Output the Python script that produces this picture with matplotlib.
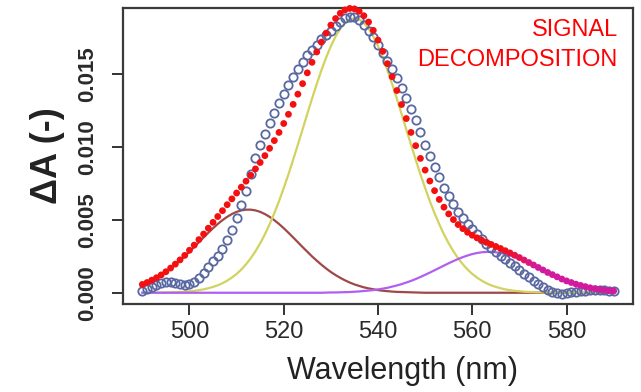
import matplotlib
matplotlib.use("Agg")
import matplotlib.pyplot as plt
import numpy as np
from matplotlib.colors import to_rgb

# ---------------- data ----------------
wl_start, wl_stop = 490, 590
wavelength = list(range(wl_start, wl_stop + 1))

measured = [
    0.00015, 0.00025, 0.00040, 0.00055, 0.00068, 0.00075, 0.00075, 0.00068, 0.00060, 0.00055,
    0.00060, 0.00075, 0.00100, 0.00135, 0.00175, 0.00215, 0.00255, 0.00300, 0.00360, 0.00430,
    0.00510, 0.00600, 0.00700, 0.00810, 0.00920, 0.01010, 0.01090, 0.01160, 0.01230, 0.01300,
    0.01360, 0.01420, 0.01480, 0.01530, 0.01580, 0.01625, 0.01665, 0.01700, 0.01735, 0.01765,
    0.01795, 0.01825, 0.01855, 0.01880, 0.01890, 0.01885, 0.01865, 0.01835, 0.01795, 0.01750,
    0.01700, 0.01645, 0.01590, 0.01530, 0.01470, 0.01405, 0.01335, 0.01260, 0.01180, 0.01100,
    0.01015, 0.00935, 0.00860, 0.00790, 0.00720, 0.00660, 0.00605, 0.00555, 0.00510, 0.00470,
    0.00435, 0.00400, 0.00365, 0.00335, 0.00305, 0.00280, 0.00255, 0.00230, 0.00205, 0.00180,
    0.00155, 0.00130, 0.00105, 0.00080, 0.00058, 0.00038, 0.00020, 0.00005, -0.00005, -0.00008,
    -0.00005, 0.00002, 0.00008, 0.00012, 0.00015, 0.00017, 0.00018, 0.00018, 0.00017, 0.00014,
    0.00010,
]

fit_sum = [
    0.00057, 0.00070, 0.00086, 0.00103, 0.00122, 0.00144, 0.00169, 0.00196, 0.00225, 0.00256,
    0.00291, 0.00326, 0.00364, 0.00402, 0.00442, 0.00482, 0.00522, 0.00562, 0.00603, 0.00643,
    0.00683, 0.00723, 0.00764, 0.00805, 0.00848, 0.00892, 0.00939, 0.00989, 0.01042, 0.01098,
    0.01159, 0.01222, 0.01290, 0.01360, 0.01432, 0.01506, 0.01578, 0.01649, 0.01716, 0.01778,
    0.01833, 0.01878, 0.01914, 0.01937, 0.01947, 0.01944, 0.01928, 0.01897, 0.01854, 0.01797,
    0.01730, 0.01653, 0.01569, 0.01479, 0.01385, 0.01289, 0.01193, 0.01098, 0.01007, 0.00920,
    0.00840, 0.00765, 0.00699, 0.00639, 0.00586, 0.00540, 0.00501, 0.00467, 0.00439, 0.00414,
    0.00394, 0.00376, 0.00360, 0.00345, 0.00331, 0.00317, 0.00303, 0.00288, 0.00273, 0.00257,
    0.00241, 0.00224, 0.00207, 0.00190, 0.00173, 0.00156, 0.00139, 0.00124, 0.00109, 0.00094,
    0.00081, 0.00070, 0.00059, 0.00050, 0.00042, 0.00034, 0.00028, 0.00023, 0.00018, 0.00015,
    0.00012,
]

component_512 = [
    0.00057, 0.00070, 0.00085, 0.00102, 0.00121, 0.00142, 0.00166, 0.00192, 0.00220, 0.00249,
    0.00281, 0.00313, 0.00346, 0.00379, 0.00411, 0.00442, 0.00471, 0.00497, 0.00520, 0.00539,
    0.00554, 0.00564, 0.00569, 0.00569, 0.00564, 0.00554, 0.00539, 0.00520, 0.00497, 0.00471,
    0.00442, 0.00411, 0.00379, 0.00346, 0.00313, 0.00281, 0.00249, 0.00220, 0.00192, 0.00166,
    0.00142, 0.00121, 0.00102, 0.00085, 0.00070, 0.00057, 0.00047, 0.00037, 0.00030, 0.00024,
    0.00018, 0.00014, 0.00011, 0.00008, 0.00006, 0.00005, 0.00004, 0.00003, 0.00002, 0.00001,
    0.0, 0.0, 0.0, 0.0, 0.0, 0.0, 0.0, 0.0, 0.0, 0.0,
    0.0, 0.0, 0.0, 0.0, 0.0, 0.0, 0.0, 0.0, 0.0, 0.0,
    0.0, 0.0, 0.0, 0.0, 0.0, 0.0, 0.0, 0.0, 0.0, 0.0,
    0.0, 0.0, 0.0, 0.0, 0.0, 0.0, 0.0, 0.0, 0.0, 0.0,
    0.0,
]

component_535 = [
    0.0, 0.0, 0.00001, 0.00001, 0.00001, 0.00002, 0.00003, 0.00004, 0.00005, 0.00007,
    0.00010, 0.00013, 0.00018, 0.00023, 0.00031, 0.00040, 0.00051, 0.00065, 0.00083, 0.00104,
    0.00129, 0.00159, 0.00195, 0.00236, 0.00284, 0.00338, 0.00400, 0.00469, 0.00545, 0.00627,
    0.00717, 0.00811, 0.00911, 0.01014, 0.01119, 0.01225, 0.01329, 0.01429, 0.01524, 0.01611,
    0.01689, 0.01755, 0.01809, 0.01848, 0.01872, 0.01880, 0.01872, 0.01848, 0.01809, 0.01755,
    0.01689, 0.01611, 0.01524, 0.01429, 0.01329, 0.01225, 0.01119, 0.01014, 0.00911, 0.00811,
    0.00717, 0.00627, 0.00545, 0.00469, 0.00400, 0.00338, 0.00284, 0.00236, 0.00195, 0.00159,
    0.00129, 0.00104, 0.00083, 0.00065, 0.00051, 0.00040, 0.00031, 0.00023, 0.00018, 0.00013,
    0.00010, 0.00007, 0.00005, 0.00004, 0.00003, 0.00002, 0.00001, 0.00001, 0.00001, 0.0,
    0.0, 0.0, 0.0, 0.0, 0.0, 0.0, 0.0, 0.0, 0.0, 0.0,
    0.0,
]

component_563 = [
    0.0, 0.0, 0.0, 0.0, 0.0, 0.0, 0.0, 0.0, 0.0, 0.0,
    0.0, 0.0, 0.0, 0.0, 0.0, 0.0, 0.0, 0.0, 0.0, 0.0,
    0.0, 0.0, 0.0, 0.0, 0.0, 0.0, 0.0, 0.0, 0.0, 0.0,
    0.0, 0.0, 0.0, 0.0, 0.0, 0.0, 0.0, 0.0, 0.0, 0.00001,
    0.00002, 0.00002, 0.00003, 0.00004, 0.00005, 0.00007, 0.00009, 0.00012, 0.00015, 0.00018,
    0.00023, 0.00028, 0.00034, 0.00042, 0.00050, 0.00059, 0.00070, 0.00081, 0.00094, 0.00108,
    0.00123, 0.00138, 0.00154, 0.00170, 0.00186, 0.00202, 0.00217, 0.00231, 0.00244, 0.00255,
    0.00265, 0.00272, 0.00277, 0.00280, 0.00280, 0.00277, 0.00272, 0.00265, 0.00255, 0.00244,
    0.00231, 0.00217, 0.00202, 0.00186, 0.00170, 0.00154, 0.00138, 0.00123, 0.00108, 0.00094,
    0.00081, 0.00070, 0.00059, 0.00050, 0.00042, 0.00034, 0.00028, 0.00023, 0.00018, 0.00015,
    0.00012,
]

x_ticks = [500, 520, 540, 560, 580]
y_ticks = [0.000, 0.005, 0.010, 0.015]
y_tick_labels = ["0.000", "0.005", "0.010", "0.015"]
x_label = "Wavelength (nm)"
y_label = "ΔA (-)"
annotation_lines = ["SIGNAL", "DECOMPOSITION"]

# ---------------- figure ----------------
plt.rcParams["font.family"] = ["Liberation Sans", "DejaVu Sans"]

fig = plt.figure(figsize=(6.41, 3.92), dpi=100)
ax = fig.add_axes([0.1919, 0.2245, 0.7956, 0.7551])

ax.plot(wavelength, component_512, color="#a04848", lw=1.6, zorder=2)
ax.plot(wavelength, component_535, color="#d2d25e", lw=1.6, zorder=2)
ax.plot(wavelength, component_563, color="#b060f0", lw=1.6, zorder=2)

ax.plot(wavelength, measured, linestyle="none", marker="o", ms=6.0,
        mfc="none", mec="#5a68a2", mew=1.3, zorder=3)

red = np.array(to_rgb("#f41010"))
mag = np.array(to_rgb("#d21a9e"))
wl_arr = np.array(wavelength, dtype=float)
t = np.clip((wl_arr - 566.0) / 8.0, 0, 1)[:, None]
dot_colors = red * (1 - t) + mag * t
ax.scatter(wavelength, fit_sum, s=24, c=dot_colors, edgecolors="none",
           zorder=4, clip_on=False)

ax.set_xlim(485.9, 594.1)
ax.set_ylim(-0.00077, 0.0195)

ax.set_xticks(x_ticks)
ax.set_xticklabels([str(v) for v in x_ticks], fontsize=17, color="#2a2a2a")
ax.set_yticks(y_ticks)
ax.set_yticklabels(y_tick_labels, fontsize=16, fontweight="bold",
                   color="#2a2a2a", rotation=90, va="center")

ax.tick_params(axis="both", direction="out", length=8, width=1.4,
               color="#333333")
ax.tick_params(axis="x", pad=4)
ax.tick_params(axis="y", pad=10)

for sp in ax.spines.values():
    sp.set_color("#3a3a3a")
    sp.set_linewidth(1.6)

ax.set_xlabel(x_label, fontsize=22, color="#222222")
ax.xaxis.set_label_coords(0.549, -0.175)
ax.set_ylabel(y_label, fontsize=26, fontweight="bold", color="#222222")
ax.yaxis.set_label_coords(-0.114, 0.5)

ax.text(0.970, 0.905, annotation_lines[0], transform=ax.transAxes, ha="right",
        va="baseline", fontsize=17, color="#ff0000")
ax.text(0.970, 0.804, annotation_lines[1], transform=ax.transAxes, ha="right",
        va="baseline", fontsize=17, color="#ff0000")

fig.savefig("out.png", dpi=100)
